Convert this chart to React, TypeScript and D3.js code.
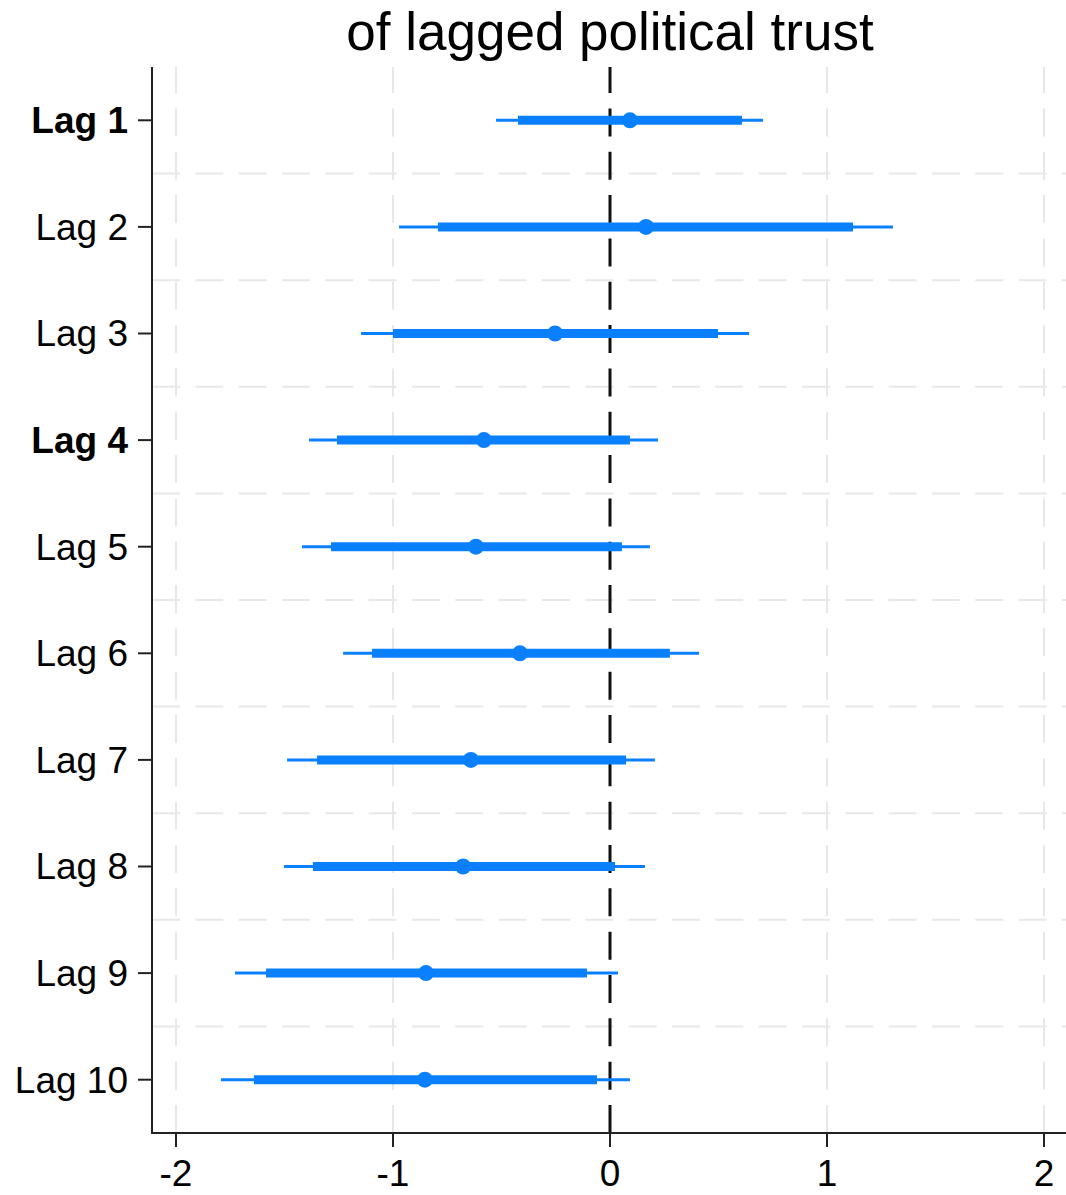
import React from "react";
import * as d3 from "d3";

const lags = ["Lag 1", "Lag 2", "Lag 3", "Lag 4", "Lag 5", "Lag 6", "Lag 7", "Lag 8", "Lag 9", "Lag 10"];
const boldLags = ["Lag 1", "Lag 4"];
const estimates = [0.092, 0.166, -0.253, -0.581, -0.618, -0.415, -0.641, -0.677, -0.848, -0.853];
const ci90Low = [-0.424, -0.793, -1.0, -1.258, -1.286, -1.097, -1.35, -1.369, -1.585, -1.641];
const ci90High = [0.608, 1.12, 0.498, 0.092, 0.055, 0.276, 0.074, 0.023, -0.106, -0.06];
const ci95Low = [-0.525, -0.972, -1.147, -1.387, -1.419, -1.23, -1.488, -1.502, -1.728, -1.793];
const ci95High = [0.705, 1.304, 0.641, 0.221, 0.184, 0.41, 0.207, 0.161, 0.037, 0.092];
const xTicks = [-2, -1, 0, 1, 2];
const title = "of lagged political trust";

const W = 1066;
const H = 1195;
const left = 152;
const top = 67;
const bottom = 1133;
const right = 1066;
const blue = "#0a80ff";
const font = "'Liberation Sans', Arial, sans-serif";

export default function App() {
  const x = d3.scaleLinear().domain([-2, 2]).range([176, 1044]);
  const y = d3.scaleBand<string>().domain(lags).range([top, bottom]);
  const yc = (l: string) => (y(l) as number) + y.bandwidth() / 2;
  const boundaries = lags.slice(1).map((l) => y(l) as number);

  return (
    <svg width={W} height={H} style={{ position: "absolute", left: 0, top: 0, background: "#fff" }} fontFamily={font}>
      <rect x={0} y={0} width={W} height={H} fill="#fff" />
      {boundaries.map((b, i) => (
        <line key={"h" + i} x1={left} x2={right} y1={b} y2={b} stroke="#e8e8e8" strokeWidth={2} strokeDasharray="28 15.33" />
      ))}
      {xTicks.filter((t) => t !== 0).map((t) => (
        <line key={"v" + t} x1={x(t)} x2={x(t)} y1={bottom} y2={top} stroke="#e8e8e8" strokeWidth={2} strokeDasharray="28 15.33" />
      ))}
      <line x1={x(0)} x2={x(0)} y1={bottom} y2={top} stroke="#111" strokeWidth={3} strokeDasharray="28 15.33" />
      {lags.map((l, i) => (
        <g key={l}>
          <line x1={x(ci95Low[i])} x2={x(ci95High[i])} y1={yc(l)} y2={yc(l)} stroke={blue} strokeWidth={3} />
          <line x1={x(ci90Low[i])} x2={x(ci90High[i])} y1={yc(l)} y2={yc(l)} stroke={blue} strokeWidth={9} />
          <circle cx={x(estimates[i])} cy={yc(l)} r={8} fill={blue} />
        </g>
      ))}
      <line x1={left} x2={left} y1={top} y2={bottom + 1} stroke="#222" strokeWidth={2} />
      <line x1={left - 1} x2={right} y1={bottom} y2={bottom} stroke="#222" strokeWidth={2} />
      {lags.map((l) => (
        <g key={"yt" + l}>
          <line x1={left - 14} x2={left} y1={yc(l)} y2={yc(l)} stroke="#222" strokeWidth={2} />
          <text x={128} y={yc(l)} dy="0.35em" textAnchor="end" fontSize={37} fontWeight={boldLags.includes(l) ? "bold" : "normal"} fill="#000">
            {l}
          </text>
        </g>
      ))}
      {xTicks.map((t) => (
        <g key={"xt" + t}>
          <line x1={x(t)} x2={x(t)} y1={bottom} y2={bottom + 14} stroke="#222" strokeWidth={2} />
          <text x={x(t)} y={1186} textAnchor="middle" fontSize={37} fill="#000">
            {t}
          </text>
        </g>
      ))}
      <text x={610} y={50} textAnchor="middle" fontSize={53} fill="#000">
        {title}
      </text>
    </svg>
  );
}
